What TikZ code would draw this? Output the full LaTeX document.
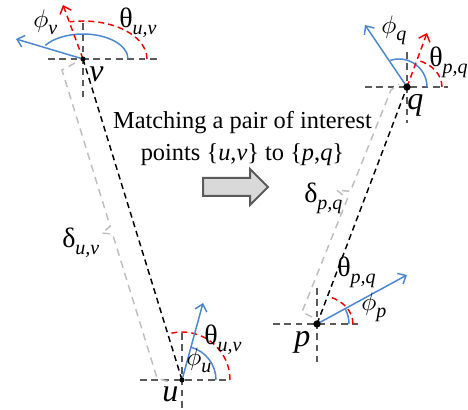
\documentclass[tikz,border=0pt]{standalone}
\usepackage{graphicx}
\usepackage{fontspec}
\setmainfont{Liberation Serif}
\usetikzlibrary{arrows.meta,calc}
\definecolor{bluea}{RGB}{74,134,210}
\definecolor{reda}{RGB}{240,0,0}
\definecolor{crossgray}{RGB}{90,90,90}
\definecolor{bracegray}{RGB}{190,190,190}
\definecolor{blockfill}{RGB}{217,217,217}
\newcommand{\gsub}[2]{{\fontsize{21}{21}\selectfont #1}\raisebox{-5pt}{\fontsize{15}{15}\selectfont\itshape #2}}
\newcommand{\phisub}[1]{\scalebox{1.9}{$\phi$}\raisebox{-5pt}{\fontsize{15}{15}\selectfont\itshape #1}}
\begin{document}
\begin{tikzpicture}[x=0.75pt,y=0.75pt,
  dotsmall/.style={circle,fill=black,inner sep=0pt,minimum size=3.8pt},
  dotbig/.style={circle,fill=black,inner sep=0pt,minimum size=5.5pt},
  crossline/.style={draw=crossgray,line width=1.1pt,dash pattern=on 5pt off 3.5pt},
  linkline/.style={draw=black,line width=1.1pt,dash pattern=on 4.5pt off 3pt},
  braceline/.style={draw=bracegray,line width=1.1pt,dash pattern=on 5.5pt off 4pt,line join=miter},
  bluearr/.style={draw=bluea,line width=1.1pt,-{Straight Barb[length=5pt,width=9pt]}},
  bluearc/.style={draw=bluea,line width=1.1pt},
  redarr/.style={draw=reda,line width=1.1pt,dash pattern=on 4.5pt off 3pt,-{Straight Barb[length=5pt,width=9pt]}},
  redarc/.style={draw=reda,line width=1.1pt,dash pattern=on 4.5pt off 3pt},
  lbl/.style={anchor=base west,inner sep=0pt},
  ptlbl/.style={anchor=base west,inner sep=0pt,font=\fontsize{24}{24}\selectfont\itshape},
  maintext/.style={anchor=base,inner sep=0pt,font=\fontsize{18.3}{24}\selectfont}
]
\useasboundingbox (0,0) rectangle (468,410);

% points
\coordinate (v) at (83,351);
\coordinate (u) at (182,30);
\coordinate (q) at (407,323);
\coordinate (p) at (317,86);

% cross lines
\draw[crossline] (48,351) -- (160,351);
\draw[crossline] (83,387) -- (83,313);
\draw[crossline] (140,30) -- (230,30);
\draw[crossline] (182,77) -- (182,0);
\draw[crossline] (365,323) -- (448,323);
\draw[crossline] (407,358) -- (407,287);
\draw[crossline] (273,86) -- (358,86);
\draw[crossline] (317,122) -- (317,48);

% braces (delta)
\draw[braceline] (75,347) -- (62,340) -- (110.2,183.6) -- (101.8,176.9) -- (112.6,176) -- (157,32) -- (172,27);
\draw[braceline] (312,93) -- (302,98) -- (347.4,211.3) -- (336.8,219.8) -- (350.4,218.7) -- (391,320) -- (399,326);

% links
\draw[linkline] (u) -- (v);
\draw[linkline] (p) -- (q);

% arcs
\draw[bluearc] ($(v)+(45,0)$) arc[start angle=0,end angle=147,x radius=45,y radius=25];
\draw[redarc] ($(v)+(64,0)$) arc[start angle=0,end angle=102,x radius=64,y radius=38];
\draw[bluearc] ($(u)+(34,0)$) arc[start angle=0,end angle=75,radius=34];
\draw[redarc] ($(u)+(48,0)$) arc[start angle=0,end angle=107,radius=48];
\draw[bluearc] ($(q)+(20,0)$) arc[start angle=0,end angle=108,radius=28];
\draw[redarc] ($(q)+(35,0)$) arc[start angle=0,end angle=73,x radius=35,y radius=28];
\draw[bluearc] ($(p)+(32,0)$) arc[start angle=0,end angle=28,radius=32];
\draw[redarc] ($(p)+(36,0)$) arc[start angle=0,end angle=69,x radius=36,y radius=29];

% arrow ends
\coordinate (vb) at (16,371);
\coordinate (vr) at (63,405);
\coordinate (ub) at (203,107);
\coordinate (qb) at (365,385);
\coordinate (qr) at (427,377);
\coordinate (pb) at (407,135);

\draw[bluearr] (v) -- (vb);
\draw[redarr] (v) -- (vr);
\draw[bluearr] (u) -- (ub);
\draw[bluearr] (q) -- (qb);
\draw[redarr] (q) -- (qr);
\draw[bluearr] (p) -- (pb);

% dots
\node[dotsmall] (vd) at (v) {};
\node[dotsmall] (ud) at (u) {};
\node[dotbig] (qd) at (q) {};
\node[dotbig] (pd) at (p) {};

% labels
\node[lbl] (phiv) at (33,382) {\phisub{v}};
\node[lbl] (thv) at (119,382) {\gsub{θ}{u,v}};
\node[ptlbl] (vl) at (89,328) {v};
\node[lbl] (phiu) at (186,44) {\phisub{u}};
\node[lbl] (thu) at (204,65) {\gsub{θ}{u,v}};
\node[ptlbl] (ul) at (162,8) {u};
\node[lbl] (phiq) at (381,376) {\phisub{q}};
\node[lbl] (thq) at (429,343) {\gsub{θ}{p,q}};
\node[ptlbl] (ql) at (407,300) {q};
\node[lbl] (phip) at (361,99) {\phisub{p}};
\node[lbl] (thp) at (337,133) {\gsub{θ}{p,q}};
\node[ptlbl] (pl) at (294,63) {p};
\node[lbl] (duv) at (62,162) {\gsub{δ}{u,v}};
\node[lbl] (dpq) at (304,207) {\gsub{δ}{p,q}};

% text
\node[maintext] (l1) at (242.5,281) {Matching a pair of interest};
\node[maintext] (l2) at (242.5,249) {points \{\textit{u},\textit{v}\} to \{\textit{p},\textit{q}\}};

% block arrow
\draw[draw=crossgray,line width=1.5pt,fill=blockfill,line join=miter]
  (203,232) -- (250,232) -- (250,241) -- (268,223) -- (250,205) -- (250,214) -- (203,214) -- cycle;
\end{tikzpicture}
\end{document}
